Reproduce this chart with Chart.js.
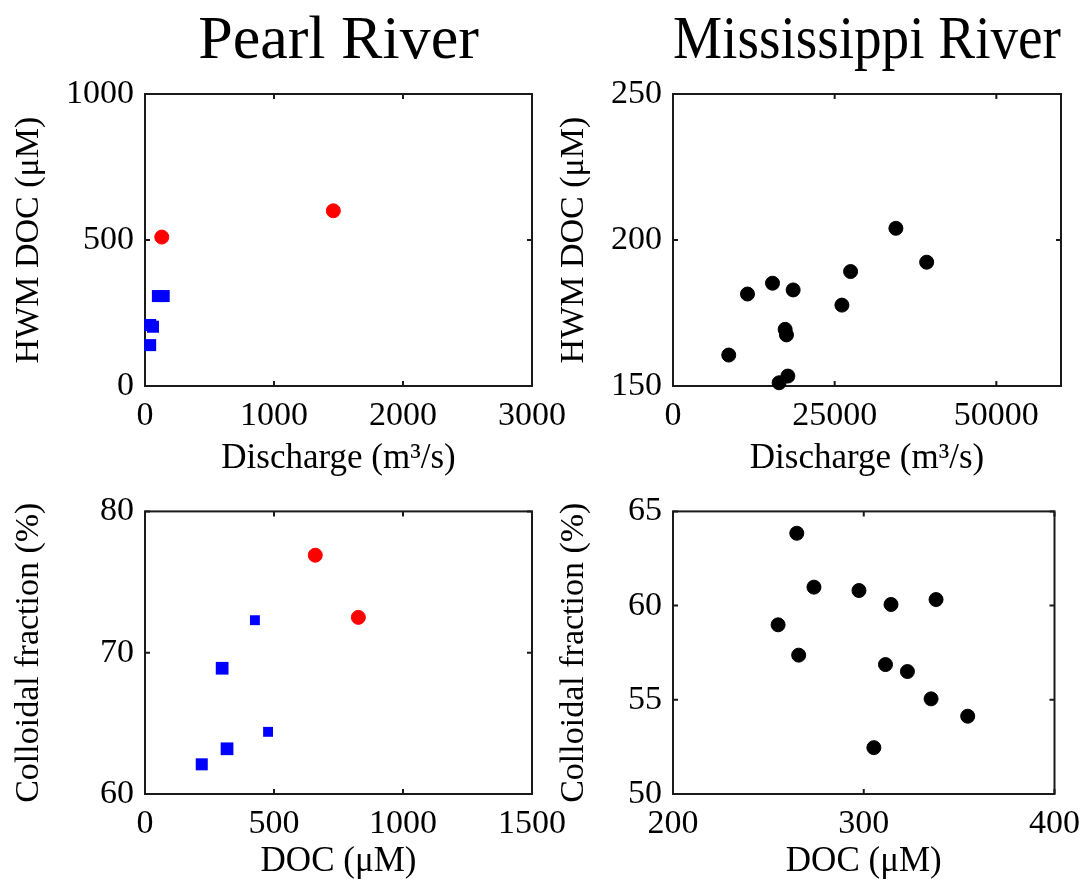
<!DOCTYPE html>
<html>
<head>
<meta charset="utf-8">
<title>Pearl River / Mississippi River</title>
<script src="https://cdn.jsdelivr.net/npm/chart.js@4.4.1/dist/chart.umd.min.js"></script>
<style>
    html, body { margin: 0; padding: 0; background: #fff; overflow: hidden; }
    #page { position: relative; width: 1090px; height: 883px; }
    canvas { position: absolute; }
</style>
</head>
<body>
<div id="page">
    <canvas id="pearlTop" width="600" height="480" style="left:0;top:0"></canvas>
    <canvas id="missTop" width="545" height="480" style="left:545px;top:0"></canvas>
    <canvas id="pearlBottom" width="600" height="403" style="left:0;top:480px"></canvas>
    <canvas id="missBottom" width="545" height="403" style="left:545px;top:480px"></canvas>
</div>
<script>
// Pearl River values (red and blue sample groups)
const pearlRedDischarge = [130, 1460];
const pearlRedHwm = [510, 600];
const pearlBlueDischarge = [100, 145, 40, 62, 40];
const pearlBlueHwm = [308, 308, 209, 203, 140];
const pearlRedDoc = [660, 827];
const pearlRedColloid = [76.9, 72.5];
const pearlBlueDoc = [426, 299, 477, 318, 220];
const pearlBlueColloid = [72.3, 68.9, 64.4, 63.2, 62.1];

// Mississippi River values
const missDischarge = [34470, 39230, 27460, 15390, 18580, 11520, 26120, 17340, 17550, 8620, 17760, 16410];
const missHwm = [204.0, 192.4, 189.2, 185.2, 182.9, 181.5, 177.7, 169.4, 167.5, 160.6, 153.4, 151.1];
const missDoc = [264.9, 273.9, 297.5, 314.3, 337.9, 255.1, 265.9, 311.4, 322.9, 335.3, 354.5, 305.3];
const missColloid = [63.84, 60.98, 60.80, 60.06, 60.32, 58.98, 57.37, 56.87, 56.50, 55.05, 54.13, 52.46];

// Tick labels and axis limits
const pearlDischargeTicks = [0, 1000, 2000, 3000];
const pearlHwmTicks = [0, 500, 1000];
const missDischargeTicks = [0, 25000, 50000];
const missDischargeRange = [0, 60000];
const missHwmTicks = [150, 200, 250];
const pearlDocTicks = [0, 500, 1000, 1500];
const pearlColloidTicks = [60, 70, 80];
const missDocTicks = [200, 300, 400];
const missColloidTicks = [50, 55, 60, 65];

const SERIF = "'Liberation Serif', 'Times New Roman', Times, serif";
Chart.defaults.font.family = SERIF;
Chart.defaults.color = "#000";

function toPoints(xs, ys) {
    return xs.map((x, i) => ({ x: x, y: ys[i] }));
}

// MATLAB style frame: full box with inward ticks on all four sides
const frameBox = {
    id: "frameBox",
    beforeDatasetsDraw(chart) {
        const { ctx, chartArea: a, scales } = chart;
        const tick = 5;
        ctx.save();
        ctx.strokeStyle = "#1a1a1a";
        ctx.lineWidth = 2;
        ctx.strokeRect(a.left, a.top, a.right - a.left, a.bottom - a.top);
        ctx.beginPath();
        scales.x.ticks.forEach((t) => {
            const px = scales.x.getPixelForValue(t.value);
            ctx.moveTo(px, a.bottom); ctx.lineTo(px, a.bottom - tick);
            ctx.moveTo(px, a.top); ctx.lineTo(px, a.top + tick);
        });
        scales.y.ticks.forEach((t) => {
            const py = scales.y.getPixelForValue(t.value);
            ctx.moveTo(a.left, py); ctx.lineTo(a.left + tick, py);
            ctx.moveTo(a.right, py); ctx.lineTo(a.right - tick, py);
        });
        ctx.stroke();
        ctx.restore();
    },
};

function redSet(data) {
    return { data: data, pointStyle: "circle", pointRadius: 7, backgroundColor: "#ff0000", borderColor: "#ff0000", borderWidth: 1, clip: false };
}
function blueSet(data, radius) {
    return { data: data, pointStyle: "rect", pointRadius: radius || 8.5, backgroundColor: "#0000ff", borderColor: "#0000ff", borderWidth: 0, clip: false };
}
function blackSet(data) {
    return { data: data, pointStyle: "circle", pointRadius: 7, backgroundColor: "#000", borderColor: "#000", borderWidth: 1, clip: false };
}

function makePanel(id, opts) {
    const axisFont = { size: 34, family: SERIF };
    new Chart(document.getElementById(id), {
        type: "scatter",
        data: { datasets: opts.datasets },
        plugins: [frameBox],
        options: {
            responsive: false,
            animation: false,
            events: [],
            layout: { autoPadding: false, padding: { top: opts.padTop, right: opts.padRight, left: 0, bottom: 0 } },
            plugins: {
                legend: { display: false },
                tooltip: { enabled: false },
                title: {
                    display: !!opts.title,
                    text: opts.title || "",
                    fullSize: false,
                    font: { size: 62, weight: "normal", lineHeight: 1.0, family: SERIF },
                    padding: { top: 11, bottom: 21 },
                    color: "#000",
                },
            },
            scales: {
                x: {
                    type: "linear",
                    min: opts.xRange[0],
                    max: opts.xRange[1],
                    grid: { display: false, drawTicks: false },
                    border: { display: false },
                    afterBuildTicks: (s) => { s.ticks = opts.xTicks.map((v) => ({ value: v })); },
                    afterFit: (s) => { s.height = opts.xHeight; },
                    ticks: { font: axisFont, padding: 10, autoSkip: false, maxRotation: 0, callback: (v) => String(v) },
                    title: { display: true, text: opts.xTitle, font: { size: 35, family: SERIF }, padding: { top: 0, bottom: 0 } },
                },
                y: {
                    type: "linear",
                    min: opts.yRange[0],
                    max: opts.yRange[1],
                    grid: { display: false, drawTicks: false },
                    border: { display: false },
                    afterBuildTicks: (s) => { s.ticks = opts.yTicks.map((v) => ({ value: v })); },
                    afterFit: (s) => { s.width = opts.yWidth; },
                    ticks: { font: axisFont, padding: 11, autoSkip: false, callback: (v) => String(v) },
                    title: { display: true, text: opts.yTitle, font: axisFont, padding: { top: 9, bottom: 0 } },
                },
            },
        },
    });
}

// Top left: Pearl River HWM DOC vs discharge
makePanel("pearlTop", {
    title: "Pearl River",
    datasets: [redSet(toPoints(pearlRedDischarge, pearlRedHwm)), blueSet(toPoints(pearlBlueDischarge, pearlBlueHwm))],
    xTicks: pearlDischargeTicks, xRange: [pearlDischargeTicks[0], pearlDischargeTicks[pearlDischargeTicks.length - 1]],
    yTicks: pearlHwmTicks, yRange: [pearlHwmTicks[0], pearlHwmTicks[pearlHwmTicks.length - 1]],
    xTitle: "Discharge (m\u00b3/s)", yTitle: "HWM DOC (\u03bcM)",
    padTop: 0, padRight: 68, xHeight: 94, yWidth: 145,
});

// Top right: Mississippi River HWM DOC vs discharge
makePanel("missTop", {
    title: "Mississippi River",
    datasets: [blackSet(toPoints(missDischarge, missHwm))],
    xTicks: missDischargeTicks, xRange: missDischargeRange,
    yTicks: missHwmTicks, yRange: [missHwmTicks[0], missHwmTicks[missHwmTicks.length - 1]],
    xTitle: "Discharge (m\u00b3/s)", yTitle: "HWM DOC (\u03bcM)",
    padTop: 0, padRight: 29, xHeight: 94, yWidth: 128,
});

// Bottom left: Pearl River colloidal fraction vs DOC
makePanel("pearlBottom", {
    datasets: [redSet(toPoints(pearlRedDoc, pearlRedColloid)), blueSet(toPoints(pearlBlueDoc, pearlBlueColloid), [7, 9, 7, 9, 8.5])],
    xTicks: pearlDocTicks, xRange: [pearlDocTicks[0], pearlDocTicks[pearlDocTicks.length - 1]],
    yTicks: pearlColloidTicks, yRange: [pearlColloidTicks[0], pearlColloidTicks[pearlColloidTicks.length - 1]],
    xTitle: "DOC (\u03bcM)", yTitle: "Colloidal fraction (%)",
    padTop: 26, padRight: 68, xHeight: 89, yWidth: 145,
});

// Bottom right: Mississippi River colloidal fraction vs DOC
makePanel("missBottom", {
    datasets: [blackSet(toPoints(missDoc, missColloid))],
    xTicks: missDocTicks, xRange: [missDocTicks[0], missDocTicks[missDocTicks.length - 1]],
    yTicks: missColloidTicks, yRange: [missColloidTicks[0], missColloidTicks[missColloidTicks.length - 1]],
    xTitle: "DOC (\u03bcM)", yTitle: "Colloidal fraction (%)",
    padTop: 26, padRight: 28, xHeight: 89, yWidth: 128,
});
</script>
</body>
</html>
